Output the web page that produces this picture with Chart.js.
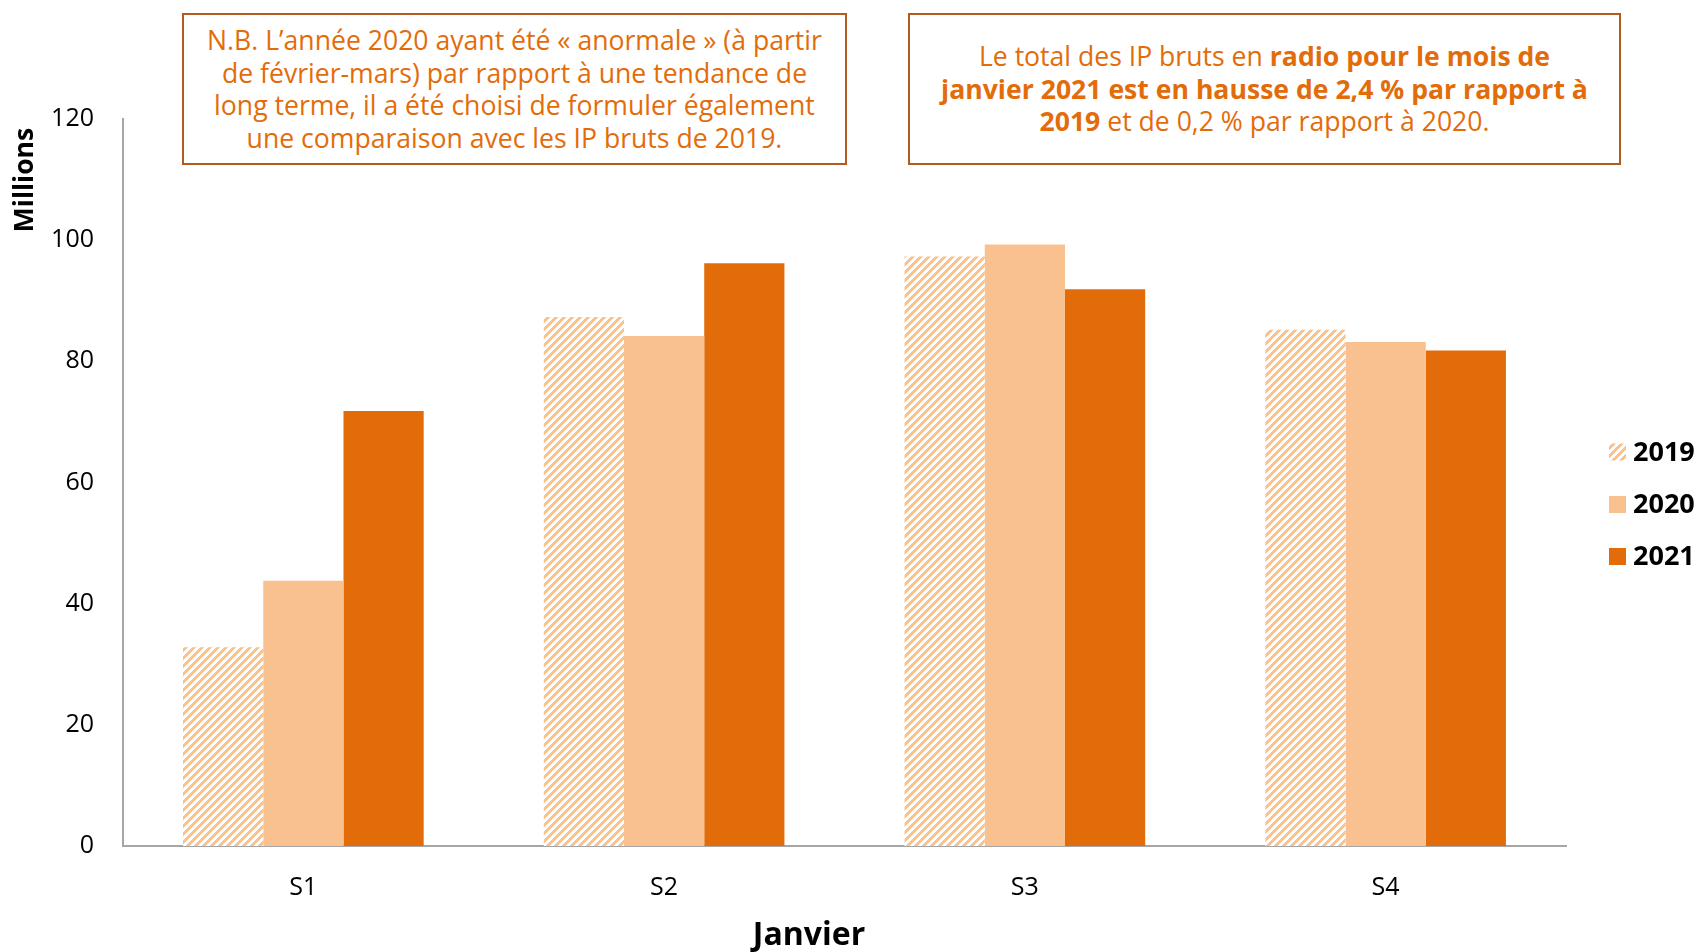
<!DOCTYPE html>
<html lang="fr">
<head>
<meta charset="utf-8">
<script src="https://cdn.jsdelivr.net/npm/chart.js@4.4.1/dist/chart.umd.min.js"></script>
<style>
  body { margin: 0; background: #fff; }
  #wrap { position: relative; width: 1696px; height: 952px; }
  .note {
    position: absolute;
    box-sizing: border-box;
    border: 2px solid #b35a1f;
    background: #fff;
    color: #e36c0a;
    font-family: "Open Sans", sans-serif;
    font-size: 26.6px;
    line-height: 32.5px;
    text-align: center;
    display: flex;
    align-items: center;
    justify-content: center;
    white-space: nowrap;
  }
  .note b { font-weight: 700; }
</style>
</head>
<body>
<div id="wrap">
  <canvas id="chart"></canvas>
  <div class="note" style="left:182px; top:13px; width:665px; height:152px;">
    <div>N.B. L’année 2020 ayant été « anormale » (à partir<br>de février-mars) par rapport à une tendance de<br>long terme, il a été choisi de formuler également<br>une comparaison avec les IP bruts de 2019.</div>
  </div>
  <div class="note" style="left:908px; top:13px; width:713px; height:152px;">
    <div>Le total des IP bruts en <b>radio pour le mois de</b><br><b>janvier 2021 est en hausse de 2,4 % par rapport à</b><br><b>2019</b> et de 0,2 % par rapport à 2020.</div>
  </div>
</div>
<script>
// semaines de janvier
const categories = ["S1", "S2", "S3", "S4"];
const seriesNames = ["2019", "2020", "2021"];

// IP bruts radio, en millions
const values2019 = [32.8, 87.3, 97.3, 85.2];
const values2020 = [43.8, 84.2, 99.3, 83.2];
const values2021 = [71.8, 96.2, 91.9, 81.8];

const yMin = 0, yMax = 120, yStep = 20;

const orangeDark = "#e36c0a";
const orangeLight = "#f9c090";

// hachures pour 2019
function makeHatch() {
    const c = document.createElement("canvas");
    c.width = 8;
    c.height = 8;
    const g = c.getContext("2d");
    g.fillStyle = "#fff";
    g.fillRect(0, 0, 8, 8);
    g.fillStyle = orangeLight;
    for (let x = 0; x < 8; x++) {
        const y = 7 - x;
        for (let k = 0; k < 4; k++) {
            g.fillRect((x + k) % 8, y, 1, 1);
        }
    }
    return g.createPattern(c, "repeat");
}
const hatch = makeHatch();
const colors = [hatch, orangeLight, orangeDark];

const extras = {
    id: "extras",
    afterDraw(chart) {
        const ctx = chart.ctx;
        ctx.save();
        // titre axe Y
        ctx.fillStyle = "#000";
        ctx.font = "bold 26.5px 'Open Sans'";
        ctx.translate(25, 180);
        ctx.rotate(-Math.PI / 2);
        ctx.textAlign = "center";
        ctx.textBaseline = "middle";
        ctx.fillText("Millions", 0, 0);
        ctx.restore();

        ctx.save();
        ctx.fillStyle = "#000";
        ctx.font = "bold 32px 'Open Sans'";
        ctx.textAlign = "center";
        ctx.textBaseline = "middle";
        ctx.fillText("Janvier", 809, 936);

        // légende
        ctx.font = "bold 27px 'Open Sans'";
        ctx.textAlign = "left";
        const ys = [452, 504.5, 556.5];
        seriesNames.forEach((name, i) => {
            ctx.fillStyle = colors[i];
            ctx.fillRect(1609, ys[i] - 8.5, 17, 17);
            ctx.fillStyle = "#000";
            ctx.fillText(name, 1633, ys[i] + 1);
        });
        ctx.restore();
    },
};

new Chart(document.getElementById("chart"), {
    type: "bar",
    data: {
        labels: categories,
        datasets: [
            { label: seriesNames[0], data: values2019, backgroundColor: hatch },
            { label: seriesNames[1], data: values2020, backgroundColor: orangeLight },
            { label: seriesNames[2], data: values2021, backgroundColor: orangeDark },
        ],
    },
    options: {
        responsive: true,
        maintainAspectRatio: false,
        animation: false,
        layout: { padding: { left: 0, right: 130, top: 119, bottom: 0 } },
        datasets: {
            bar: { categoryPercentage: 0.667, barPercentage: 1.0 },
        },
        plugins: {
            legend: { display: false },
            tooltip: { enabled: false },
        },
        scales: {
            x: {
                grid: { display: false, drawTicks: false },
                border: { display: true, color: "#a6a6a6", width: 2 },
                ticks: {
                    color: "#000",
                    font: { family: "'Open Sans'", size: 25 },
                    padding: 27,
                },
                afterFit(scale) { scale.height = 106; },
            },
            y: {
                min: yMin,
                max: yMax,
                grid: { display: false, drawOnChartArea: false, drawTicks: true, tickLength: 9, tickColor: "#a6a6a6", tickWidth: 2 },
                border: { display: true, color: "#a6a6a6", width: 2 },
                ticks: {
                    stepSize: yStep,
                    color: "#000",
                    font: { family: "'Open Sans'", size: 25 },
                    padding: 20,
                },
                afterFit(scale) { scale.width = 123; },
            },
        },
    },
    plugins: [extras],
});
</script>
</body>
</html>
